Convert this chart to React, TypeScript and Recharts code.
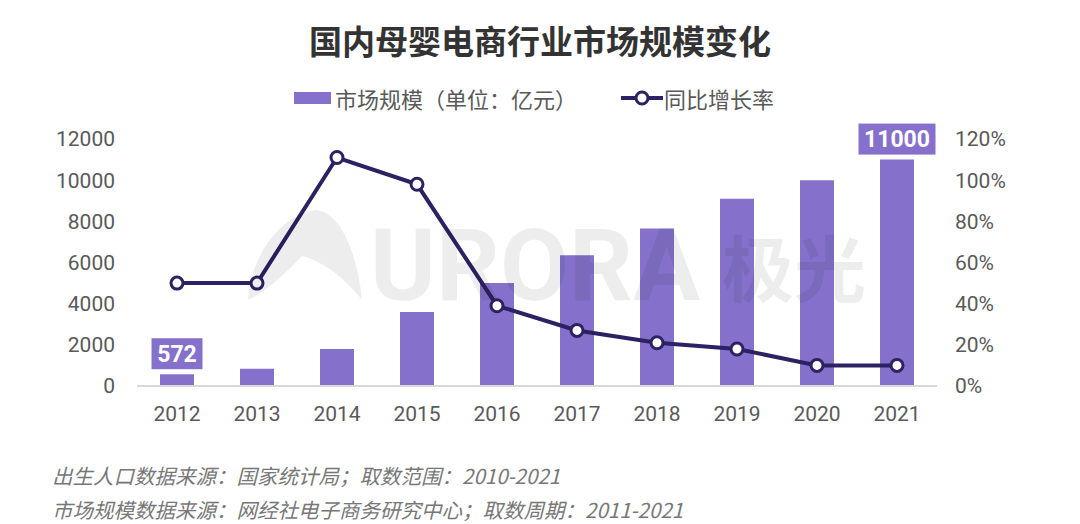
import React from "react";
import {
  ComposedChart,
  Bar,
  Line,
  XAxis,
  YAxis,
  LabelList,
} from "recharts";

const years = ["2012", "2013", "2014", "2015", "2016", "2017", "2018", "2019", "2020", "2021"];
const marketSize = [572, 840, 1800, 3600, 5000, 6350, 7650, 9100, 10000, 11000];
const growthRate = [50, 50, 111, 98, 39, 27, 21, 18, 10, 10];
const leftTicks = [0, 2000, 4000, 6000, 8000, 10000, 12000];
const rightTicks = [0, 20, 40, 60, 80, 100, 120];
const labelledYears = ["2012", "2021"];

const BAR = "#8571cb";
const LINE = "#2c2163";
const TEXT = "#595959";
const FONT = "Roboto, 'Noto Sans CJK SC', sans-serif";
const CJK = "'Noto Sans CJK SC', Roboto, sans-serif";

const data = years.map((year, i) => ({
  year,
  size: marketSize[i],
  rate: growthRate[i],
}));

function ValueBox(props: any) {
  const { x, y, width, value, index } = props;
  if (!labelledYears.includes(years[index])) return null;
  const text = String(value);
  const w = text.length * 13 + 12;
  const h = 31;
  const cx = x + width / 2;
  return (
    <g>
      <rect x={cx - w / 2} y={y - h - 5} width={w} height={h} fill={BAR} />
      <text
        x={cx}
        y={y - 5 - h / 2}
        dy="0.36em"
        textAnchor="middle"
        fill="#fff"
        fontSize={23}
        fontWeight={700}
        fontFamily={FONT}
      >
        {text}
      </text>
    </g>
  );
}

// faint logo overlay, drawn over the bars like the original
function Watermark() {
  const fill = "rgba(0,0,0,0.07)";
  return (
    <svg
      width={1080}
      height={524}
      style={{ position: "absolute", left: 0, top: 0, pointerEvents: "none" }}
    >
      <path
        d="M248 300 C 250 258, 280 214, 316 210 C 342 212, 358 258, 362 300 C 348 282, 326 262, 302 256 C 292 266, 270 290, 248 300 Z"
        fill={fill}
      />
      <text x={370} y={300} fontSize={100} fontWeight={700} fontFamily={FONT} fill={fill}>
        URORA
      </text>
      <text x={722} y={296} fontSize={72} fontWeight={700} fontFamily={CJK} fill={fill}>
        极光
      </text>
    </svg>
  );
}

export default function App() {
  return (
    <div
      style={{
        position: "absolute",
        left: 0,
        top: 0,
        width: 1080,
        height: 524,
        background: "#fff",
        fontFamily: CJK,
        overflow: "hidden",
      }}
    >
      <div
        style={{
          position: "absolute",
          top: 16,
          width: 1080,
          textAlign: "center",
          fontSize: 33,
          fontWeight: 700,
          color: "#333",
        }}
      >
        国内母婴电商行业市场规模变化
      </div>

      {/* legend */}
      <div
        style={{
          position: "absolute",
          top: 82,
          left: 294,
          display: "flex",
          alignItems: "center",
          fontSize: 22,
          color: TEXT,
        }}
      >
        <span style={{ width: 37, height: 12, background: BAR, marginRight: 4 }} />
        <span>市场规模（单位：亿元）</span>
        <svg width={42} height={20} style={{ marginLeft: 44, marginRight: 1 }}>
          <line x1={0} y1={10} x2={42} y2={10} stroke={LINE} strokeWidth={4} />
          <circle cx={21} cy={10} r={6} fill="#fff" stroke={LINE} strokeWidth={3} />
        </svg>
        <span>同比增长率</span>
      </div>

      <div style={{ position: "absolute", left: 0, top: 0 }}>
        <ComposedChart
          width={1080}
          height={524}
          data={data}
          margin={{ top: 139, right: 0, bottom: 108, left: 0 }}
        >
          <XAxis
            dataKey="year"
            axisLine={{ stroke: "#d9d9d9", strokeWidth: 2 }}
            tickLine={false}
            tickMargin={14}
            height={30}
            tick={{ fill: TEXT, fontSize: 21, fontFamily: FONT }}
          />
          <YAxis
            yAxisId="left"
            width={137}
            domain={[0, 12000]}
            ticks={leftTicks}
            axisLine={false}
            tickLine={false}
            tickMargin={16}
            tick={{ fill: TEXT, fontSize: 21, fontFamily: FONT }}
          />
          <YAxis
            yAxisId="right"
            orientation="right"
            width={143}
            domain={[0, 120]}
            ticks={rightTicks}
            tickFormatter={(v) => `${v}%`}
            axisLine={false}
            tickLine={false}
            tickMargin={12}
            tick={{ fill: TEXT, fontSize: 21, fontFamily: FONT, textAnchor: "start" }}
          />
          <Bar
            yAxisId="left"
            dataKey="size"
            fill={BAR}
            barSize={34}
            isAnimationActive={false}
          >
            <LabelList dataKey="size" content={ValueBox} />
          </Bar>
          <Line
            yAxisId="right"
            dataKey="rate"
            stroke={LINE}
            strokeWidth={4}
            dot={{ r: 6, fill: "#fff", stroke: LINE, strokeWidth: 3 }}
            isAnimationActive={false}
          />
        </ComposedChart>
      </div>

      <Watermark />

      <div
        style={{
          position: "absolute",
          left: 52,
          top: 458,
          fontSize: 20.5,
          fontStyle: "italic",
          color: "#777",
          lineHeight: "34px",
        }}
      >
        <div>出生人口数据来源：国家统计局；取数范围：2010-2021</div>
        <div>市场规模数据来源：网经社电子商务研究中心；取数周期：2011-2021</div>
      </div>
    </div>
  );
}
